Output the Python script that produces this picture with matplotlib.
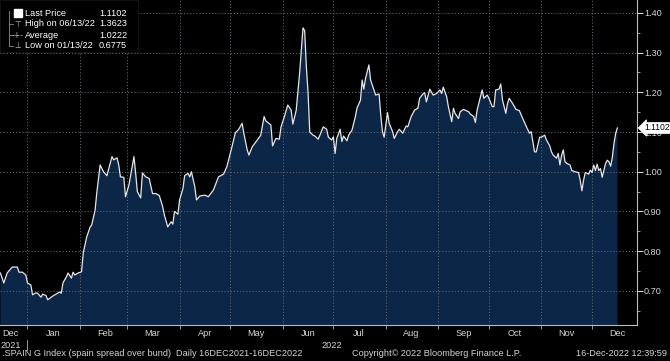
import datetime as dt
import matplotlib
matplotlib.use("Agg")
import matplotlib.pyplot as plt
import matplotlib.transforms as mtransforms
from matplotlib.patches import Rectangle
from matplotlib.ticker import MultipleLocator
import matplotlib.dates as mdates

plt.rcParams['font.family'] = ['Liberation Sans', 'DejaVu Sans']

# ---------------- data ----------------
start_date = dt.datetime(2021, 12, 16)
day_offsets = [
    0, 2, 4, 7, 10, 11, 13, 15, 16, 18, 19, 21, 22, 24, 25, 27, 28, 31, 33, 35,
    36, 37, 39, 40, 42, 43, 44, 46, 48, 49, 51, 53, 54, 56, 57, 59, 61, 63, 66, 67,
    69, 70, 71, 73, 74, 76, 77, 79, 80, 81, 83, 84, 86, 88, 90, 92, 94, 96, 97, 99,
    101, 102, 103, 105, 106, 108, 109, 111, 112, 113, 115, 116, 118, 121, 123, 126, 129, 132, 134, 136,
    137, 139, 141, 143, 144, 146, 147, 149, 152, 154, 156, 157, 160, 161, 163, 165, 166, 168, 170, 172,
    173, 175, 177, 179, 180, 181, 182, 183, 185, 186, 188, 189, 191, 193, 194, 196, 197, 198, 199, 201,
    202, 203, 205, 206, 208, 210, 211, 213, 214, 215, 216, 218, 219, 221, 222, 224, 225, 226, 227, 229,
    230, 232, 233, 235, 236, 238, 240, 241, 243, 245, 247, 248, 250, 251, 252, 254, 256, 258, 260, 261,
    262, 264, 265, 267, 268, 269, 271, 272, 274, 275, 277, 278, 280, 281, 282, 284, 285, 286, 288, 289,
    291, 292, 293, 295, 296, 297, 299, 300, 301, 303, 305, 307, 309, 311, 313, 314, 316, 317, 319, 320,
    322, 323, 325, 326, 327, 329, 330, 331, 332, 333, 334, 335, 337, 338, 340, 342, 343, 344, 345, 346,
    348, 349, 350, 351, 352, 353, 354, 355, 356, 357, 358, 359, 360, 361, 362, 363, 364, 365,
]
spread = [
    0.745, 0.720, 0.745, 0.760, 0.760, 0.747, 0.747, 0.740, 0.720, 0.715, 0.690, 0.695, 0.694, 0.684, 0.692, 0.688, 0.6775, 0.687, 0.692, 0.697,
    0.694, 0.720, 0.735, 0.745, 0.732, 0.747, 0.740, 0.745, 0.748, 0.795, 0.835, 0.860, 0.866, 0.903, 0.946, 1.017, 1.000, 0.990, 1.038, 1.030,
    1.035, 1.017, 0.987, 0.986, 0.937, 0.966, 0.990, 1.038, 0.997, 0.950, 0.934, 0.997, 0.987, 0.983, 0.945, 0.945, 0.940, 0.912, 0.891, 0.861,
    0.874, 0.868, 0.900, 0.893, 0.929, 0.958, 0.990, 0.996, 0.987, 1.000, 0.962, 0.929, 0.939, 0.941, 0.937, 0.954, 0.987, 0.994, 1.013, 1.046,
    1.063, 1.098, 1.107, 1.122, 1.097, 1.055, 1.042, 1.063, 1.080, 1.092, 1.139, 1.128, 1.118, 1.065, 1.084, 1.082, 1.113, 1.139, 1.168, 1.155,
    1.120, 1.155, 1.248, 1.3623, 1.355, 1.264, 1.200, 1.100, 1.092, 1.090, 1.082, 1.092, 1.113, 1.107, 1.087, 1.080, 1.088, 1.046, 1.084, 1.107,
    1.076, 1.090, 1.078, 1.092, 1.105, 1.139, 1.161, 1.180, 1.231, 1.208, 1.235, 1.269, 1.231, 1.206, 1.193, 1.196, 1.143, 1.101, 1.087, 1.149,
    1.122, 1.101, 1.084, 1.101, 1.107, 1.097, 1.115, 1.113, 1.139, 1.155, 1.160, 1.185, 1.196, 1.199, 1.176, 1.208, 1.193, 1.197, 1.206, 1.197,
    1.213, 1.189, 1.164, 1.126, 1.160, 1.147, 1.134, 1.151, 1.157, 1.155, 1.151, 1.145, 1.139, 1.124, 1.155, 1.189, 1.206, 1.185, 1.193, 1.185,
    1.164, 1.164, 1.206, 1.208, 1.221, 1.181, 1.147, 1.172, 1.185, 1.172, 1.157, 1.154, 1.134, 1.115, 1.097, 1.101, 1.050, 1.050, 1.087, 1.087,
    1.092, 1.080, 1.065, 1.050, 1.042, 1.034, 1.046, 1.017, 1.042, 1.055, 1.025, 1.021, 1.017, 1.003, 1.000, 0.998, 0.979, 0.952, 0.979, 0.998,
    0.994, 1.004, 0.998, 1.017, 1.003, 1.019, 1.003, 1.008, 0.986, 1.004, 1.021, 1.029, 1.025, 1.014, 1.036, 1.072, 1.097, 1.1102,
]
month_labels = ["Dec", "Jan", "Feb", "Mar", "Apr", "May", "Jun", "Jul", "Aug", "Sep", "Oct", "Nov", "Dec"]
y_ticks = [0.70, 0.80, 0.90, 1.00, 1.10, 1.20, 1.30, 1.40]
legend_names = ["Last Price", "High on 06/13/22", "Average", "Low on 01/13/22"]
legend_values = ["1.1102", "1.3623", "1.0222", "0.6775"]
last_price = 1.1102

# ---------------- figure ----------------
W, H = 670, 361
FS = 6.6
TXT = "#d4d4d4"
fig = plt.figure(figsize=(W / 100, H / 100), dpi=100, facecolor="black")
ax = fig.add_axes([0, 1 - 325 / H, 637 / W, 325 / H])
ax.set_facecolor("black")

dates = [start_date + dt.timedelta(days=d) for d in day_offsets]
ax.fill_between(dates, spread, 0.3, color="#0b2646", lw=0, zorder=1)
ax.plot(dates, spread, color="#e6e6e6", lw=0.9, zorder=3)

ax.set_ylim(0.614, 1.4325)
ax.set_xlim(start_date - dt.timedelta(days=0.24), start_date + dt.timedelta(days=376.6))

grid_col = "#5f6670"
ax.yaxis.tick_right()
ax.set_yticks(y_ticks)
ax.set_yticklabels([f"{v:.2f}" for v in y_ticks])
ax.yaxis.set_minor_locator(MultipleLocator(0.05))
ax.tick_params(axis="y", which="major", colors=TXT, labelsize=FS, length=4, width=0.8, pad=1)
ax.tick_params(axis="y", which="minor", colors="#b0b0b0", length=2, width=0.6)

ax.xaxis.set_major_locator(mdates.MonthLocator())
ax.xaxis.set_major_formatter(plt.NullFormatter())
ax.tick_params(axis="x", which="major", colors="#b0b0b0", length=3, width=0.6, direction="out")

ax.grid(True, which="major", color=grid_col, ls=(0, (1.2, 2.0)), lw=0.7)
ax.set_axisbelow(False)
for g in ax.get_xgridlines() + ax.get_ygridlines():
    g.set_zorder(2)

for s in ["left", "top"]:
    ax.spines[s].set_visible(False)
for s in ["right", "bottom"]:
    ax.spines[s].set_color("#bdbdbd")
    ax.spines[s].set_linewidth(0.8)

# month labels centred on month
xt = ax.get_xaxis_transform()
mid_dates = [dt.datetime(2021, 12, 22)] + [dt.datetime(2022, m, 16) for m in range(1, 13)]
for lab, d in zip(month_labels, mid_dates):
    ax.text(d, -9 / 325, lab, transform=xt, ha="center", va="center",
            color=TXT, fontsize=FS, clip_on=False)
ax.text(dt.datetime(2021, 12, 22), -20 / 325, "2021", transform=xt, ha="center", va="center",
        color=TXT, fontsize=FS, clip_on=False)
ax.text(dt.datetime(2022, 6, 30), -20 / 325, "2022", transform=xt, ha="center", va="center",
        color=TXT, fontsize=FS, clip_on=False)
ax.plot([dt.datetime(2022, 1, 1)] * 2, [-15 / 325, -25 / 325], transform=xt,
        color="#b0b0b0", lw=0.6, clip_on=False)

# footer
fig.text(2 / W, 1 - 354 / H, ".SPAIN G Index (spain spread over bund)  Daily 16DEC2021-16DEC2022",
         color=TXT, fontsize=FS, va="center", ha="left")
fig.text(352 / W, 1 - 354 / H, "Copyright\u00a9 2022 Bloomberg Finance L.P.",
         color=TXT, fontsize=FS, va="center", ha="left")
fig.text(667 / W, 1 - 354 / H, "16-Dec-2022 12:39:59",
         color=TXT, fontsize=FS, va="center", ha="right")

# last price tag
yt = mtransforms.blended_transform_factory(ax.transAxes, ax.transData)
ax.text(1.0 + 7 / 637, last_price, "1.1102", transform=yt, ha="left", va="center",
        color="black", fontsize=6.2, clip_on=False, zorder=10,
        bbox=dict(boxstyle="larrow,pad=0.12", fc="white", ec="white", lw=0.5))

# legend box
ax.add_patch(Rectangle((0, 1 - 52 / 325), 138 / 637, 52 / 325, transform=ax.transAxes,
                       facecolor="black", edgecolor="#151515", lw=0.6, zorder=5))
ly = [13, 24, 35, 46]
for i, (nm, val) in enumerate(zip(legend_names, legend_values)):
    fy = 1 - ly[i] / H
    fig.text(25 / W, fy, nm, color="white", fontsize=FS, va="center", ha="left", zorder=6)
    fig.text(127 / W, fy, val, color="white", fontsize=FS, va="center", ha="right", zorder=6)
# tree line and symbols
fig.add_artist(plt.Line2D([9 / W, 9 / W], [1 - 11 / H, 1 - 46 / H], color="#8a8a8a", lw=0.6))
for i in range(1, 4):
    fy = 1 - ly[i] / H
    fig.add_artist(plt.Line2D([9 / W, 13 / W], [fy, fy], color="#8a8a8a", lw=0.6))
fig.add_artist(Rectangle((14 / W, 1 - 17 / H), 8 / W, 8 / H, transform=fig.transFigure,
                         facecolor="white", edgecolor="white", zorder=7))
sym = ["", "\u22a4", "-+-", "\u22a5"]
for i in range(1, 4):
    fig.text(18 / W, 1 - ly[i] / H, sym[i], color="#bbbbbb", fontsize=5.5, va="center", ha="center",
             family="DejaVu Sans")

fig.savefig("out.png", dpi=100, facecolor="black")
